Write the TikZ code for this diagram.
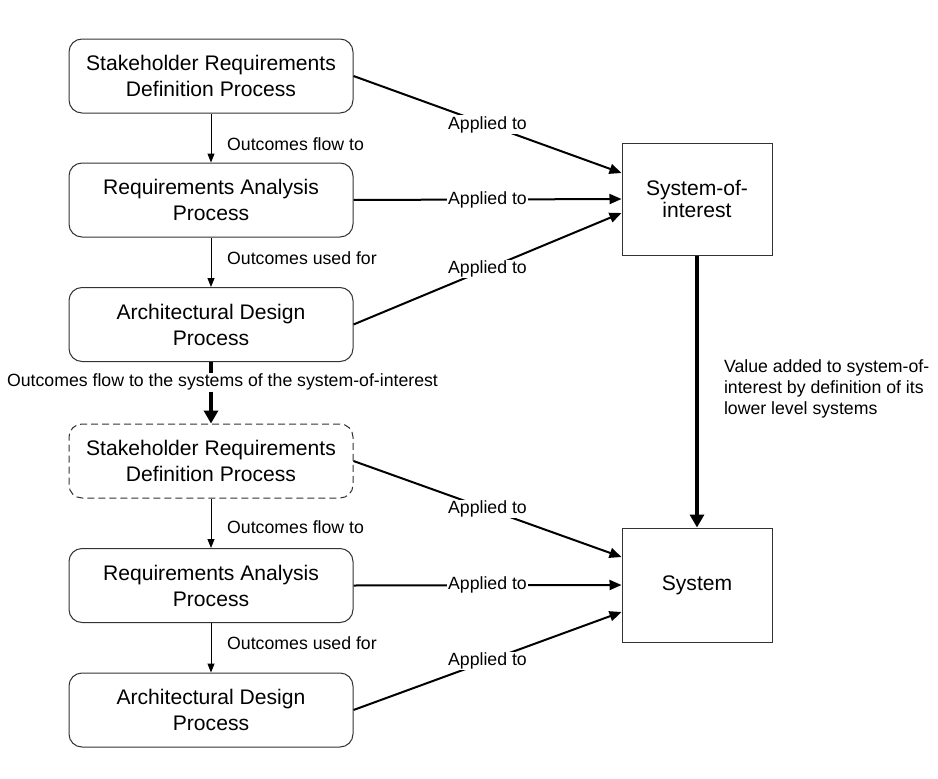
\documentclass[tikz,border=0pt]{standalone}
\usepackage{fontspec}
\setmainfont{Liberation Sans}
\usetikzlibrary{arrows.meta}
\begin{document}
\begin{tikzpicture}[x=1pt,y=-1pt,
  proc/.style={draw=black!80, line width=1pt, rounded corners=13pt, minimum width=284pt, minimum height=74pt, align=center, inner sep=0pt, font=\fontsize{21.1}{26}\selectfont},
  procdash/.style={proc, dash pattern=on 7pt off 4pt},
  sysbox/.style={draw=black!80, line width=1pt, minimum width=150pt, align=center, inner sep=0pt, font=\fontsize{21.1}{22}\selectfont},
  lbl/.style={font=\fontsize{17.7}{21}\selectfont, inner sep=1pt},
  flow/.style={line width=1pt, -{Triangle[length=9pt,width=7pt]}},
  applied/.style={line width=2pt, -{Triangle[length=12pt,width=10pt]}},
  heavy/.style={line width=4pt, -{Triangle[length=13pt,width=14pt]}}
]
\useasboundingbox (0,0) rectangle (938,779);
\fill[white] (0,0) rectangle (938,779);

% left column
\node[proc] (b1) at (211,76) {Stakeholder Requirements\\Definition Process};
\node[proc] (b2) at (211,200) {Requirements Analysis\\Process};
\node[proc] (b3) at (211,324.5) {Architectural Design\\Process};
\node[procdash] (b4) at (211,461) {Stakeholder Requirements\\Definition Process};
\node[proc] (b5) at (211,585.5) {Requirements Analysis\\Process};
\node[proc] (b6) at (211,710) {Architectural Design\\Process};

% right column
\node[sysbox, minimum height=112pt] (soi) at (697,199) {System-of-\\interest};
\node[sysbox, minimum height=114pt] (sys) at (697,585) {System};

% vertical flows
\draw[flow] (b1) -- (b2);
\node[lbl, anchor=base west] (l1) at (226,150) {Outcomes flow to};
\draw[flow] (b2) -- (b3);
\node[lbl, anchor=base west] (l2) at (226,264.5) {Outcomes used for};
\draw[flow] (b4) -- (b5);
\node[lbl, anchor=base west] (l3) at (226,533.5) {Outcomes flow to};
\draw[flow] (b5) -- (b6);
\node[lbl, anchor=base west] (l4) at (226,649.5) {Outcomes used for};

\draw[heavy] (b3) -- node[lbl, fill=white, pos=0.33, xshift=11.5pt] (lt) {Outcomes flow to the systems of the system-of-interest} (b4);

% applied to: upper
\draw[applied] (b1.east) -- node[lbl, fill=white] (a1) {Applied to} ([yshift=26pt]soi.west);
\draw[applied] (b2.east) -- node[lbl, fill=white] (a2) {Applied to} ([yshift=0pt]soi.west);
\draw[applied] (b3.east) -- node[lbl, fill=white] (a3) {Applied to} ([yshift=-14pt]soi.west);

% applied to: lower
\draw[applied] (b4.east) -- node[lbl, fill=white] (a4) {Applied to} ([yshift=28pt]sys.west);
\draw[applied] (b5.east) -- node[lbl, fill=white] (a5) {Applied to} ([yshift=0pt]sys.west);
\draw[applied] (b6.east) -- node[lbl, fill=white] (a6) {Applied to} ([yshift=-27pt]sys.west);

% value added
\draw[heavy] (soi) -- node[lbl, anchor=west, pos=0.492, xshift=25pt, align=left, inner sep=0pt] (v) {Value added to system-of-\\interest by definition of its\\lower level systems} (sys);
\end{tikzpicture}
\end{document}
